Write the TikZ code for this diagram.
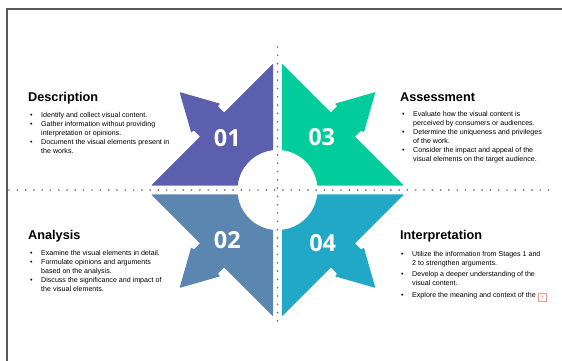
\documentclass[tikz,border=0pt]{standalone}
\usepackage{fontspec}
\setmainfont{Liberation Sans}
\newfontfamily\numfont{Open Sans}
\definecolor{quadPurple}{HTML}{5B5FAE}
\definecolor{quadGreen}{HTML}{00CD9B}
\definecolor{quadSteel}{HTML}{5A86AF}
\definecolor{quadTeal}{HTML}{21A8C7}
\definecolor{frameGray}{HTML}{5A5A5A}
\definecolor{dotGray}{HTML}{727272}
\definecolor{overPink}{HTML}{F09A9A}
\tikzset{
  heading/.style={anchor=base west, inner sep=0pt, font=\bfseries\fontsize{12.7}{15}\selectfont},
  bullets/.style={anchor=base west, inner sep=0pt, font=\fontsize{7.1}{9}\selectfont},
  quadnum/.style={text=white, inner sep=0pt, font=\numfont\bfseries\fontsize{23.5}{28}\selectfont},
  dotline/.style={dotGray, line width=1.9pt, line cap=round, dash pattern=on 0pt off 8.3pt},
  frameline/.style={frameGray, line width=1.2pt},
  overflowbox/.style={draw=overPink, text=overPink, line width=0.7pt, minimum size=7.5pt, inner sep=0pt, font=\fontsize{7}{7}\selectfont}
}
% one quarter of the star, drawn for the upper left and mirrored for the rest
\def\quadarrow[#1](#2)(#3,#4){\begin{scope}[shift={(#2)},xscale=#3,yscale=#4]
  \fill[#1, rounded corners=0.8pt] (-4.3,-126.5) -- (-4.3,-39.77) arc[start angle=263.8, end angle=186.2, radius=40]
    -- (-126.5,-4.3) -- (-77.42,-53.38) -- (-83.78,-59.74) -- (-86.26,-57.26) -- (-97.93,-97.93)
    -- (-57.26,-86.26) -- (-59.74,-83.78) -- (-53.38,-77.42) -- cycle;
\end{scope}}

\begin{document}
\begin{tikzpicture}[x=1pt, y=-1pt]
			%%%%% START %%%%%
			\useasboundingbox (0,0) rectangle (562,361);
			
			\draw[frameline] (7,361) -- (7,9) -- (562,9);
			
			\quadarrow[quadPurple](277.5,190)(1,1)
			\quadarrow[quadGreen](277.5,190)(-1,1)
			\quadarrow[quadSteel](277.5,190)(1,-1)
			\quadarrow[quadTeal](277.5,190)(-1,-1)
			
			\coordinate (vtop) at (277.5,47);
			\coordinate (vbot) at (277.5,325);
			\coordinate (hleft) at (9,190);
			\coordinate (hright) at (556,190);
			\draw[dotline] (vtop) -- (vbot);
			\draw[dotline] (hleft) -- (hright);
			
			\node[quadnum] (num01) at (227.3,138.3) {01};
			\node[quadnum] (num03) at (321.7,136.7) {03};
			\node[quadnum] (num02) at (227.3,240.5) {02};
			\node[quadnum] (num04) at (322.7,243.3) {04};
			
			\node[heading] (descHead) at (28,101.5) {Description};
			\node[bullets] (descList) at (30,117.5) {\begin{tabular}[t]{@{}p{11pt}@{}l@{}}
				\textbullet & Identify and collect visual content.\\
				\textbullet & Gather information without providing\\
				& interpretation or opinions.\\
				\textbullet & Document the visual elements present in\\
				& the works.
			\end{tabular}};
			
			\node[heading] (assessHead) at (400,101.5) {Assessment};
			\node[bullets] (assessList) at (402,116.5) {\begin{tabular}[t]{@{}p{11pt}@{}l@{}}
				\textbullet & Evaluate how the visual content is\\
				& perceived by consumers or audiences.\\
				\textbullet & Determine the uniqueness and privileges\\
				& of the work.\\
				\textbullet & Consider the impact and appeal of the\\
				& visual elements on the target audience.
			\end{tabular}};
			
			\node[heading] (analysisHead) at (28,239.5) {Analysis};
			\node[bullets] (analysisList) at (30,255.5) {\begin{tabular}[t]{@{}p{11pt}@{}l@{}}
				\textbullet & Examine the visual elements in detail.\\
				\textbullet & Formulate opinions and arguments\\
				& based on the analysis.\\
				\textbullet & Discuss the significance and impact of\\
				& the visual elements.
			\end{tabular}};
			
			\node[heading] (interpHead) at (400,239.5) {Interpretation};
			\node[bullets] (interpList) at (401,256) {\begin{tabular}[t]{@{}p{11pt}@{}l@{}}
				\textbullet & Utilize the information from Stages 1 and\\
				& 2 to strengthen arguments.\\[2.5pt]
				\textbullet & Develop a deeper understanding of the\\
				& visual content.\\[2.5pt]
				\textbullet & Explore the meaning and context of the
			\end{tabular}};
			\node[overflowbox] (more) at (542.5,297.5) {+};
			
			%%%%% END %%%%%
\end{tikzpicture}
\end{document}
